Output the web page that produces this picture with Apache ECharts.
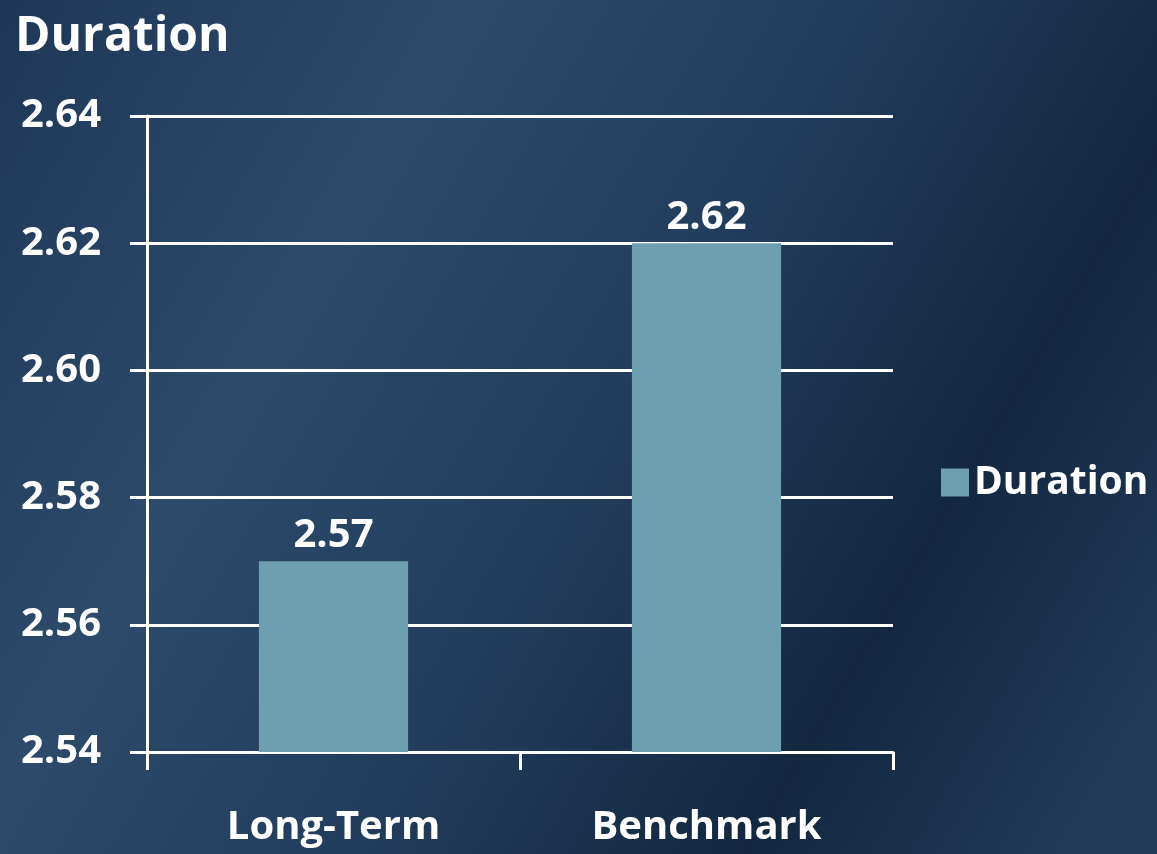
<!DOCTYPE html>
<html><head><meta charset="utf-8">
<script src="https://cdn.jsdelivr.net/npm/echarts@6/dist/echarts.min.js"></script>
<style>html,body{margin:0;padding:0;}#c{width:1157px;height:854px;}</style>
</head><body><div id="c"></div>
<script>
const categories = ["Long-Term", "Benchmark"];
const durationValues = [2.57, 2.62];
const seriesName = "Duration";
const titleText = "Duration";

const FONT = "'Open Sans', sans-serif";
const chart = echarts.init(document.getElementById('c'));
chart.setOption({
  backgroundColor: {
    type: 'linear', x: 0, y: 0, x2: 1, y2: 0.8,
    colorStops: [
      {offset: 0, color: '#1e3757'},
      {offset: 0.3, color: '#2d4a6b'},
      {offset: 0.55, color: '#223d5c'},
      {offset: 0.8, color: '#132740'},
      {offset: 1, color: '#203a58'}
    ]
  },
  title: {
    text: titleText, left: 10, top: 8,
    textStyle: {color: '#fff', fontFamily: FONT, fontWeight: 'bold', fontSize: 48}
  },
  legend: {
    data: [seriesName], orient: 'vertical', left: 936, top: 458,
    icon: 'rect', itemWidth: 28, itemHeight: 28, itemGap: 10,
    textStyle: {color: '#fff', fontFamily: FONT, fontWeight: 'bold', fontSize: 39}
  },
  grid: {left: 147, right: 264, top: 116, bottom: 102},
  xAxis: {
    type: 'category', data: categories,
    axisLine: {lineStyle: {color: '#fff', width: 3}},
    axisTick: {show: true, length: 18, lineStyle: {color: '#fff', width: 3}},
    axisLabel: {color: '#fff', fontFamily: FONT, fontWeight: 'bold', fontSize: 40, margin: 56}
  },
  yAxis: {
    type: 'value', min: 2.54, max: 2.64, interval: 0.02,
    axisLine: {show: true, lineStyle: {color: '#fff', width: 3}},
    axisTick: {show: true, length: 17, lineStyle: {color: '#fff', width: 3}},
    splitLine: {lineStyle: {color: '#fff', width: 3}},
    axisLabel: {color: '#fff', fontFamily: FONT, fontWeight: 'bold', fontSize: 40, margin: 46,
      formatter: v => v.toFixed(2)}
  },
  series: [{
    name: seriesName, type: 'bar', data: durationValues, barWidth: '40%',
    itemStyle: {color: '#6e9fb0'},
    label: {show: true, position: 'top', distance: 6, color: '#fff', fontFamily: FONT,
      fontWeight: 'bold', fontSize: 40, formatter: p => p.value.toFixed(2)}
  }]
});
</script></body></html>
